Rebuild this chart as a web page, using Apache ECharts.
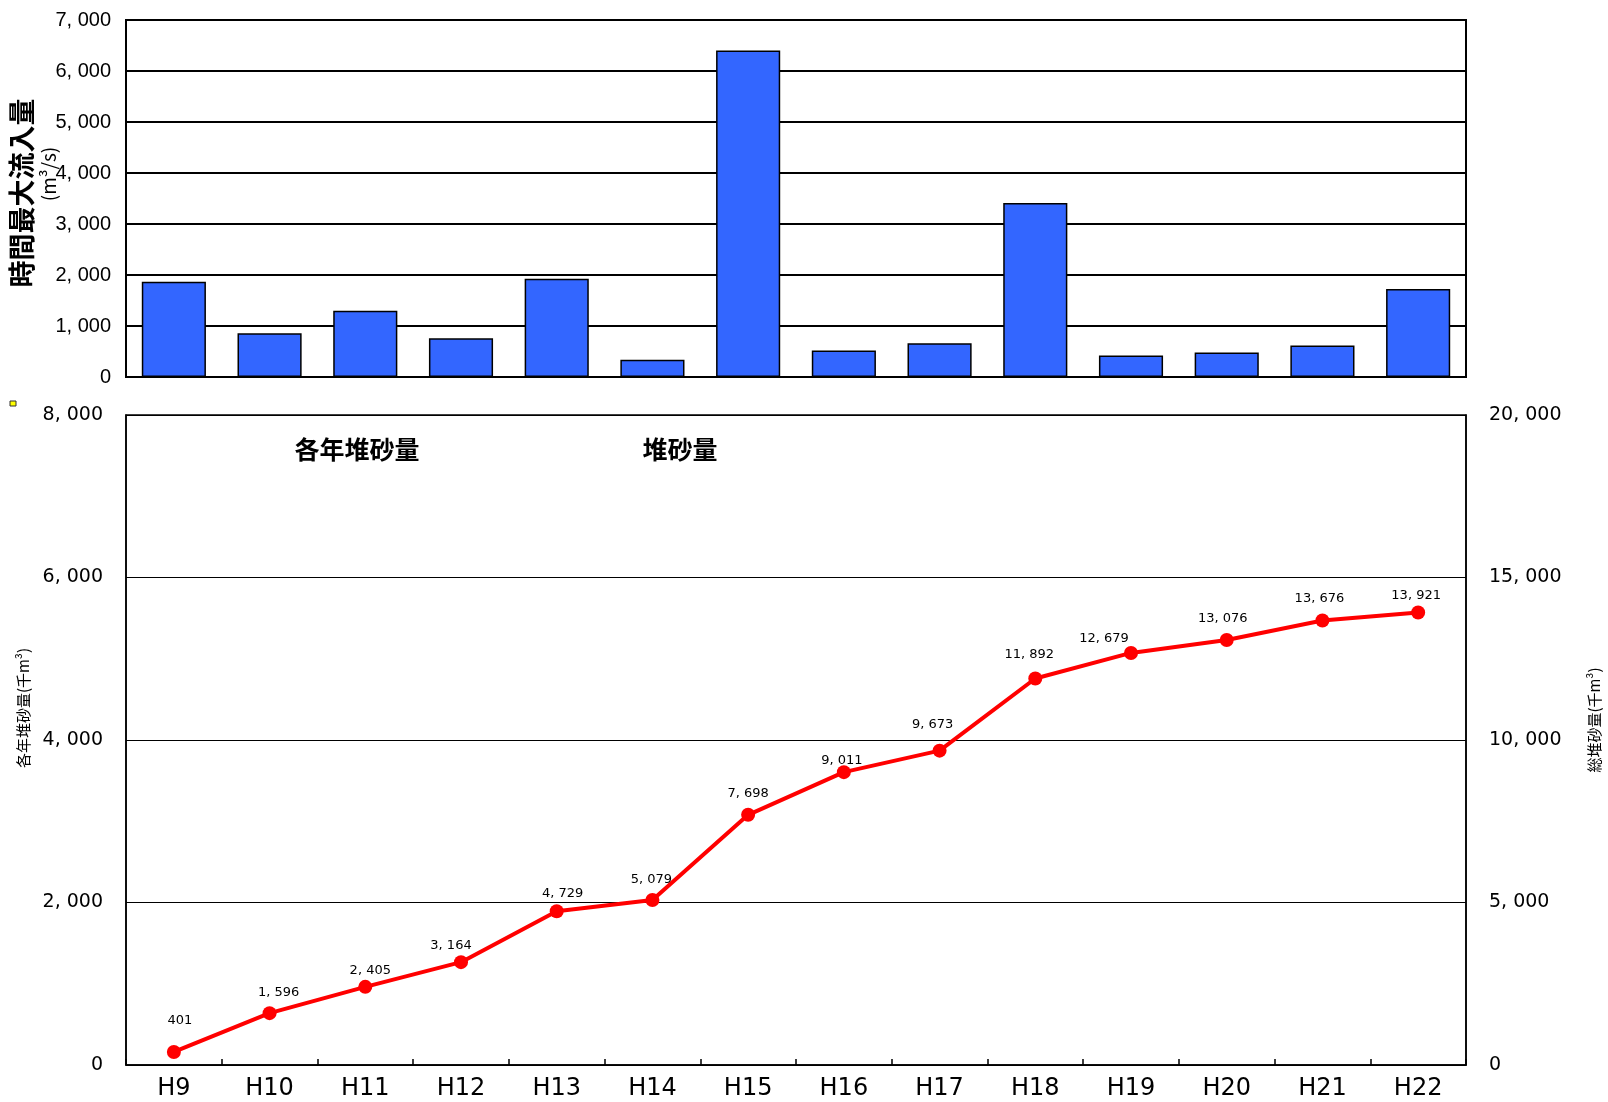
<!DOCTYPE html>
<html>
<head>
<meta charset="utf-8">
<script src="https://cdn.jsdelivr.net/npm/echarts@6/dist/echarts.min.js"></script>
<style>
html,body{margin:0;padding:0;background:#fff;}
#chart{width:1608px;height:1102px;}
</style>
</head>
<body>
<div id="chart"></div>
<script>
// ---- data ----
const categories = ['H9','H10','H11','H12','H13','H14','H15','H16','H17','H18','H19','H20','H21','H22'];
const maxInflow = [1870, 860, 1300, 760, 1925, 340, 6400, 520, 660, 3410, 420, 480, 620, 1725];
const totalSediment = [401, 1596, 2405, 3164, 4729, 5079, 7698, 9011, 9673, 11892, 12679, 13076, 13676, 13921];
const inflowAxis = {min: 0, max: 7000, interval: 1000};
const annualAxis = {min: 0, max: 8000, interval: 2000};
const totalAxis = {min: 0, max: 20000, interval: 5000};
const titleInflow = '時間最大流入量';
const unitInflow = '(m³/s)';
const nameAnnual = '各年堆砂量(千m³)';
const nameTotal = '総堆砂量(千m³)';
const legendAnnual = '各年堆砂量';
const legendTotal = '堆砂量';

// label nudges (style only)
const labelShift = [[6,-10],[9,1],[5,5],[-10,5],[6,4],[-1,1],[0,0],[-2,10],[-7,-5],[-6,-2],[-27,7],[-4,0],[-3,0],[-2,5]];

const fmt = v => Number(v).toLocaleString('en-US').replace(/,/g, ', ');
const gothic = "'Noto Sans CJK JP', 'DejaVu Sans', sans-serif";
const wide = "'DejaVu Sans', 'Noto Sans', sans-serif";
const narrow = "'Liberation Sans Narrow', 'Liberation Sans', 'Noto Sans', sans-serif";

const lineData = totalSediment.map((v, i) => ({
  value: v,
  label: {offset: labelShift[i]}
}));

const chart = echarts.init(document.getElementById('chart'), null, {renderer: 'canvas'});
chart.setOption({
  animation: false,
  backgroundColor: '#fff',
  grid: [
    {left: 126, right: 142, top: 20, height: 357, show: true, borderColor: '#000', borderWidth: 2, containLabel: false},
    {left: 126, right: 142, top: 415, height: 650, show: true, borderColor: '#000', borderWidth: 1.5, containLabel: false}
  ],
  xAxis: [
    {type: 'category', gridIndex: 0, data: categories,
     axisLine: {show: true, lineStyle: {color: '#000', width: 2}},
     axisTick: {show: false}, axisLabel: {show: false}},
    {type: 'category', gridIndex: 1, data: categories, boundaryGap: true,
     axisLine: {show: true, lineStyle: {color: '#000', width: 1.5}},
     axisTick: {show: true, inside: true, length: 6, alignWithLabel: false, lineStyle: {color: '#000', width: 1.5}},
     axisLabel: {show: true, color: '#000', fontSize: 24, fontFamily: wide, margin: 12}}
  ],
  yAxis: [
    {type: 'value', gridIndex: 0, min: inflowAxis.min, max: inflowAxis.max, interval: inflowAxis.interval,
     axisLine: {show: true, lineStyle: {color: '#000', width: 2}},
     axisTick: {show: false},
     splitLine: {show: true, lineStyle: {color: '#000', width: 2}},
     axisLabel: {color: '#000', fontSize: 20, fontFamily: narrow, margin: 15, formatter: fmt}},
    {type: 'value', gridIndex: 1, min: annualAxis.min, max: annualAxis.max, interval: annualAxis.interval,
     axisLine: {show: true, lineStyle: {color: '#000', width: 1.5}},
     axisTick: {show: false},
     splitLine: {show: true, lineStyle: {color: '#000', width: 1}},
     axisLabel: {color: '#000', fontSize: 19, fontFamily: wide, margin: 23, formatter: fmt}},
    {type: 'value', gridIndex: 1, position: 'right', min: totalAxis.min, max: totalAxis.max, interval: totalAxis.interval,
     axisLine: {show: true, lineStyle: {color: '#000', width: 1.5}},
     axisTick: {show: false},
     splitLine: {show: false},
     axisLabel: {color: '#000', fontSize: 19, fontFamily: wide, margin: 23, formatter: fmt}}
  ],
  series: [
    {type: 'bar', name: titleInflow, xAxisIndex: 0, yAxisIndex: 0, data: maxInflow, barWidth: '67%',
     itemStyle: {color: '#3366FF', borderColor: '#000', borderWidth: 1.5}},
    {type: 'line', name: legendTotal, xAxisIndex: 1, yAxisIndex: 2, data: lineData,
     symbol: 'circle', symbolSize: 14,
     lineStyle: {color: '#FF0000', width: 4},
     itemStyle: {color: '#FF0000'},
     label: {show: true, position: 'top', distance: 8, color: '#000', fontSize: 13, fontFamily: wide, formatter: p => fmt(p.value)}}
  ],
  graphic: [
    {type: 'text', x: 22, y: 193, rotation: Math.PI / 2,
     style: {text: titleInflow, fontSize: 27, fontWeight: 'bold', fontFamily: gothic, fill: '#000', align: 'center', verticalAlign: 'middle'}},
    {type: 'text', x: 49, y: 174, rotation: Math.PI / 2,
     style: {text: unitInflow, fontSize: 19, fontFamily: gothic, fill: '#000', align: 'center', verticalAlign: 'middle'}},
    {type: 'text', x: 23, y: 708, rotation: Math.PI / 2,
     style: {text: nameAnnual, fontSize: 15, fontFamily: gothic, fill: '#000', align: 'center', verticalAlign: 'middle'}},
    {type: 'text', x: 1594, y: 720, rotation: Math.PI / 2,
     style: {text: nameTotal, fontSize: 15, fontFamily: gothic, fill: '#000', align: 'center', verticalAlign: 'middle'}},
    {type: 'text', x: 357, y: 449,
     style: {text: legendAnnual, fontSize: 25, fontWeight: 'bold', fontFamily: gothic, fill: '#000', align: 'center', verticalAlign: 'middle'}},
    {type: 'text', x: 680, y: 449,
     style: {text: legendTotal, fontSize: 25, fontWeight: 'bold', fontFamily: gothic, fill: '#000', align: 'center', verticalAlign: 'middle'}},
    {type: 'rect', shape: {x: 10, y: 401, width: 6, height: 5},
     style: {fill: '#FFFF00', stroke: '#333', lineWidth: 1}}
  ]
});
</script>
</body>
</html>
